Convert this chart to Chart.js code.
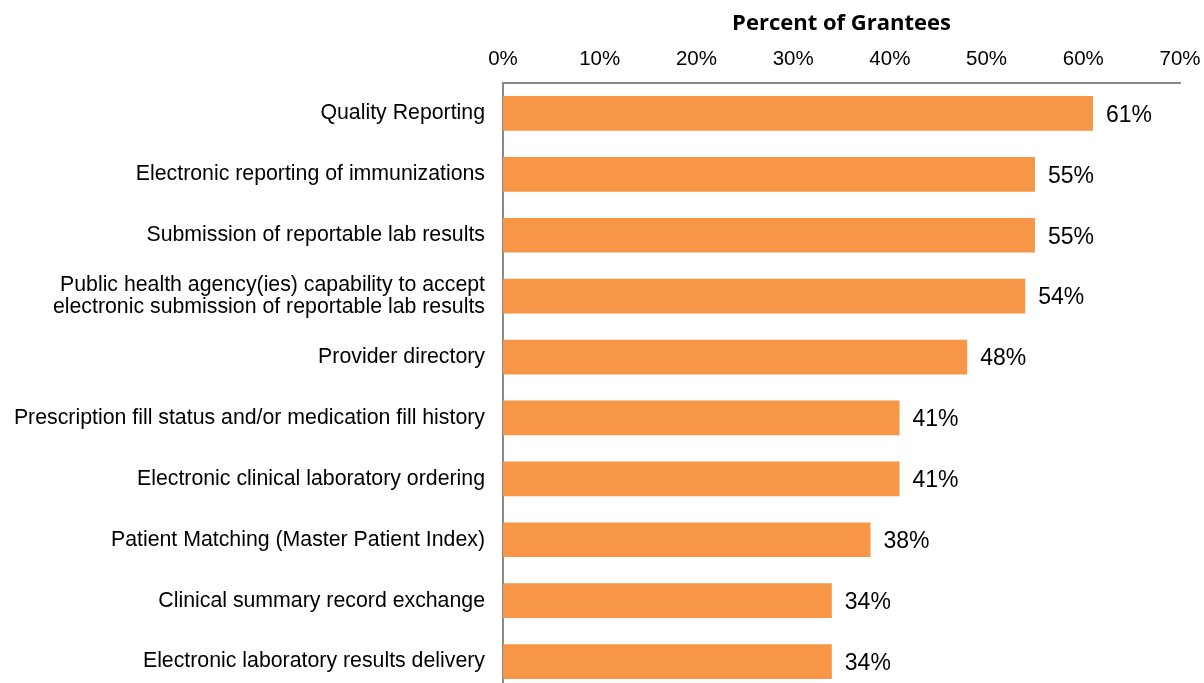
<!DOCTYPE html>
<html>
<head>
<meta charset="utf-8">
<script src="https://cdn.jsdelivr.net/npm/chart.js@4"></script>
<style>
  html, body { margin: 0; padding: 0; background: #fff; overflow: hidden; }
</style>
</head>
<body>
<canvas id="grantChart" width="1204" height="694"></canvas>
<script>
const categories = [
    'Quality Reporting',
    'Electronic reporting of immunizations',
    'Submission of reportable lab results',
    ['Public health agency(ies) capability to accept', 'electronic submission of reportable lab results'],
    'Provider directory',
    'Prescription fill status and/or medication fill history',
    'Electronic clinical laboratory ordering',
    'Patient Matching (Master Patient Index)',
    'Clinical summary record exchange',
    'Electronic laboratory results delivery'
];
const percentValues = [61, 55, 55, 54, 48, 41, 41, 38, 34, 34];
const tickValues = [0, 10, 20, 30, 40, 50, 60, 70];

// draws "61%" etc. just right of each bar
const valueLabels = {
    id: 'valueLabels',
    afterDatasetsDraw(chart) {
        const ctx = chart.ctx;
        const meta = chart.getDatasetMeta(0);
        ctx.save();
        ctx.font = '23px "Liberation Sans", Arial, sans-serif';
        ctx.fillStyle = '#000';
        ctx.textAlign = 'left';
        ctx.textBaseline = 'middle';
        meta.data.forEach((bar, i) => {
            ctx.fillText(percentValues[i] + '%', bar.x + 13, bar.y + 2);
        });
        ctx.restore();
    }
};

const ctx = document.getElementById('grantChart').getContext('2d');
new Chart(ctx, {
    type: 'bar',
    data: {
        labels: categories,
        datasets: [{
            data: percentValues,
            backgroundColor: '#F79646',
            barPercentage: 0.57,
            categoryPercentage: 1.0
        }]
    },
    options: {
        indexAxis: 'y',
        responsive: false,
        animation: false,
        layout: { padding: { left: 0, right: 24, top: 0, bottom: 2 } },
        plugins: {
            legend: { display: false },
            tooltip: { enabled: false }
        },
        scales: {
            x: {
                position: 'top',
                min: 0,
                max: 70,
                afterBuildTicks(scale) {
                    scale.ticks = tickValues.map(v => ({ value: v }));
                },
                afterFit(scale) {
                    scale.height = 83;
                    scale.paddingLeft = 0;
                    scale.paddingRight = 0;
                },
                grid: { display: false, drawTicks: false },
                border: { display: true, color: '#898989', width: 2 },
                ticks: {
                    padding: 11,
                    color: '#000',
                    font: { family: '"Liberation Sans", Arial, sans-serif', size: 20.5 },
                    callback: v => v + '%'
                },
                title: {
                    display: true,
                    text: 'Percent of Grantees',
                    color: '#000',
                    font: { family: '"Open Sans", Calibri, sans-serif', size: 22, weight: 'bold' },
                    padding: { top: 11, bottom: 0 }
                }
            },
            y: {
                afterFit(scale) {
                    scale.width = 503;
                    scale.paddingTop = 0;
                    scale.paddingBottom = 0;
                },
                grid: { display: false, drawTicks: false },
                border: { display: true, color: '#898989', width: 2 },
                ticks: {
                    padding: 18,
                    color: '#000',
                    font: { family: '"Liberation Sans", Arial, sans-serif', size: 21.3, lineHeight: 1.05 }
                }
            }
        }
    },
    plugins: [valueLabels]
});
</script>
</body>
</html>
